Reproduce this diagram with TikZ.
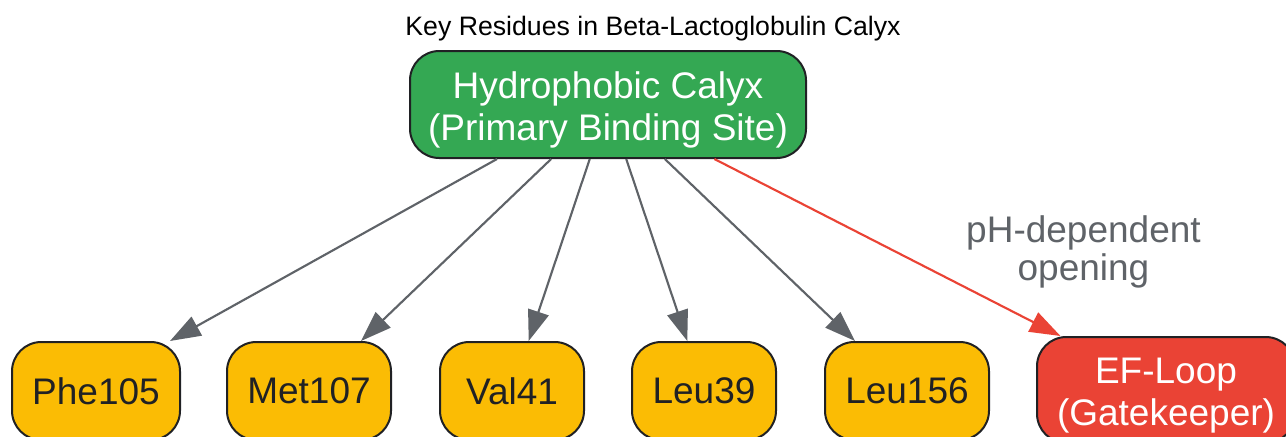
\documentclass[tikz,border=0pt]{standalone}
\usepackage{fontspec}
\setmainfont{Liberation Sans}
\usetikzlibrary{arrows.meta}
\definecolor{ggreen}{HTML}{34A853}
\definecolor{gyellow}{HTML}{FBBC04}
\definecolor{gred}{HTML}{EA4335}
\definecolor{gdark}{HTML}{202124}
\definecolor{ggray}{HTML}{5F6368}
\newcommand{\topstrut}{\rule{0pt}{27.75pt}}
\begin{document}
\begin{tikzpicture}[x=0.75pt,y=-0.75pt,
  box/.style={draw=gdark, line width=1.5pt, rounded corners=22pt, align=center,
    inner sep=0pt, font=\fontsize{27.75}{31.5}\selectfont},
  resbox/.style={box, fill=gyellow, text=gdark, minimum height=73.5pt},
  garr/.style={draw=ggray, line width=1.6pt, -{Triangle[length=23pt,width=16pt]}},
  rarr/.style={draw=gred, line width=1.6pt, -{Triangle[length=23pt,width=16pt]}},
  lbl/.style={text=ggray, align=center, inner sep=0pt, font=\fontsize{27.75}{28.5}\selectfont}]
\useasboundingbox (0,0) rectangle (1286,436);
\node[anchor=base, inner sep=0pt, font=\fontsize{20}{24}\selectfont] (title) at (653,35) {Key Residues in Beta-Lactoglobulin Calyx};
\node[box, fill=ggreen, text=white, minimum width=297pt, minimum height=80.25pt] (calyx) at (608,104.5) {\topstrut Hydrophobic Calyx\\(Primary Binding Site)};
\node[resbox, minimum width=126pt] (phe) at (96,391) {Phe105};
\node[resbox, minimum width=123pt] (met) at (309,391) {Met107};
\node[resbox, minimum width=108pt] (val) at (512,391) {Val41};
\node[resbox, minimum width=108pt] (leu39) at (704,391) {Leu39};
\node[resbox, minimum width=123pt] (leu156) at (907,391) {Leu156};
\node[box, fill=gred, text=white, minimum width=193.5pt, minimum height=79.5pt] (ef) at (1166,390) {\topstrut EF-Loop\\(Gatekeeper)};
\draw[garr] ([xshift=-83.25pt]calyx.south) -- ([xshift=55.5pt]phe.north);
\draw[garr] (calyx) -- (met);
\draw[garr] (calyx) -- (val);
\draw[garr] (calyx) -- (leu39);
\draw[garr] (calyx) -- (leu156);
\draw[rarr] (calyx) -- (ef);
\node[lbl] (phlbl) at (1083.5,251.5) {pH-dependent\\opening};
\end{tikzpicture}
\end{document}
